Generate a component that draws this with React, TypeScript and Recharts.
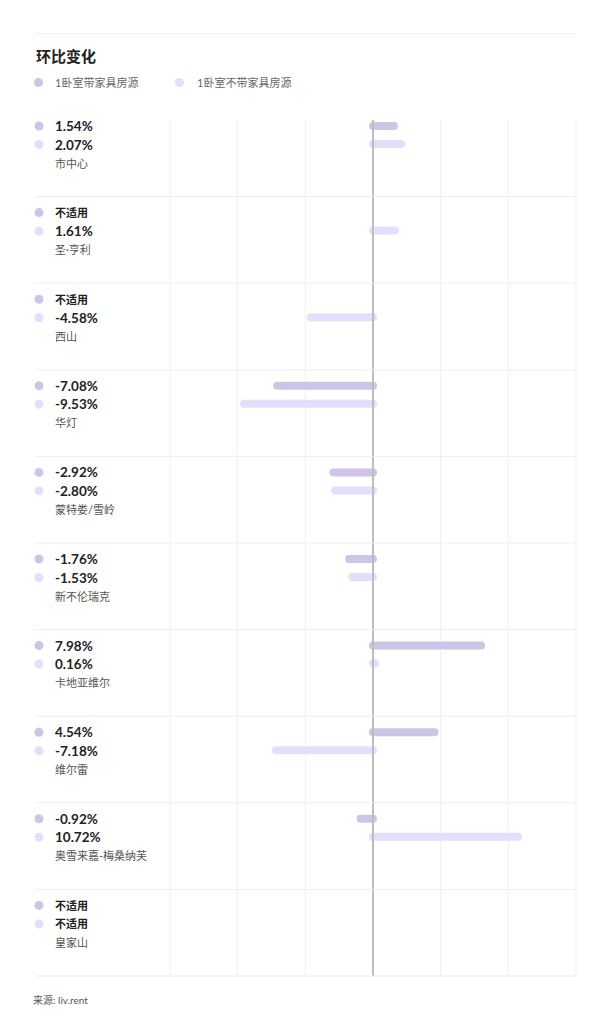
import React from 'react';
import { BarChart, Bar, XAxis, YAxis, CartesianGrid, ReferenceLine } from 'recharts';

const neighborhoods: string[] = ['市中心', '圣·亨利', '西山', '华灯', '蒙特娄/雪岭', '新不伦瑞克', '卡地亚维尔', '维尔雷', '奥雪来嘉-梅桑纳芙', '皇家山'];
const furnished: (number | null)[] = [1.54, null, null, -7.08, -2.92, -1.76, 7.98, 4.54, -0.92, null];
const unfurnished: (number | null)[] = [2.07, 1.61, -4.58, -9.53, -2.8, -1.53, 0.16, -7.18, 10.72, null];
const xTicks: number[] = [-15, -10, -5, 0, 5, 10, 15];
const seriesNames: string[] = ['1卧室带家具房源', '1卧室不带家具房源'];
const naLabel = '不适用';
const titleText = '环比变化';
const sourceText = '来源: liv.rent';

const data = neighborhoods.map((name, i) => ({ name, furnished: furnished[i], unfurnished: unfurnished[i] }));

const C1 = '#cdc4e6';
const C2 = '#e3defa';
const FONT = "Lato, 'Noto Sans CJK SC', sans-serif";

const CHART_W = 594;
const CHART_H = 1000;
const MARGIN = { top: 112, right: 26, bottom: 32, left: 27 };
const Y_PAD_TOP = -10;
const ROW_H = (CHART_H - MARGIN.top - MARGIN.bottom - Y_PAD_TOP) / neighborhoods.length;
const LEFT = MARGIN.left;
const RIGHT = CHART_W - MARGIN.right;

const fmt = (v: number | null) => (v == null ? naLabel : `${v.toFixed(2)}%`);

const RowTick = (props: any) => {
  const { y, payload } = props;
  const i = payload.index;
  const vals = [furnished[i], unfurnished[i]];
  const cols = [C1, C2];
  const offs = [-ROW_H / 2 + 16, -ROW_H / 2 + 34.5];
  return (
    <g>
      {vals.map((v, k) => (
        <g key={k}>
          <circle cx={LEFT + 4} cy={y + offs[k]} r={4.5} fill={cols[k]} />
          <text
            x={LEFT + 20}
            y={y + offs[k]}
            dominantBaseline="central"
            fontFamily={FONT}
            fontWeight={700}
            fontSize={v == null ? 11 : 13.5}
            fill="#222"
          >
            {fmt(v)}
          </text>
        </g>
      ))}
      <text x={LEFT + 20} y={y - ROW_H / 2 + 53} dominantBaseline="central" fontFamily={FONT} fontSize={11} fill="#555">
        {neighborhoods[i]}
      </text>
      <line x1={LEFT} x2={RIGHT} y1={y + ROW_H / 2} y2={y + ROW_H / 2} stroke="#eeeeee" strokeWidth={1} />
    </g>
  );
};

const makePill = (key: 'furnished' | 'unfurnished', color: string) => (props: any) => {
  const { x, y, width, height, payload } = props;
  if (!payload || payload[key] == null) return <g />;
  const left = Math.min(x, x + width) - height / 2;
  const right = Math.max(x, x + width) + height / 2;
  return <rect x={left} y={y} width={right - left} height={height} rx={height / 2} ry={height / 2} fill={color} />;
};

const Empty = () => <g />;

export default function App() {
  return (
    <div style={{ position: 'relative', width: CHART_W, height: CHART_H + 10, fontFamily: FONT }}>
      <div style={{ position: 'absolute', left: 27, top: 25, width: 541, height: 1, background: '#efefef' }} />
      <div style={{ position: 'absolute', left: 28, top: 38, fontSize: 15, fontWeight: 700, color: '#222', lineHeight: '20px' }}>
        {titleText}
      </div>
      {seriesNames.map((s, k) => (
        <div
          key={s}
          style={{ position: 'absolute', left: k === 0 ? 26 : 167, top: 66, display: 'flex', alignItems: 'center', height: 16 }}
        >
          <span style={{ width: 9, height: 9, borderRadius: 5, background: k === 0 ? C1 : C2, display: 'inline-block' }} />
          <span style={{ marginLeft: k === 0 ? 12 : 13, fontSize: 11, color: '#666' }}>{s}</span>
        </div>
      ))}
      <div style={{ position: 'absolute', top: 0, left: 0 }}>
        <BarChart width={CHART_W} height={CHART_H} data={data} layout="vertical" margin={MARGIN} barSize={8} barGap={10}>
          <CartesianGrid horizontal={false} stroke="#f0f0f0" />
          <XAxis type="number" domain={[-15, 15]} ticks={xTicks} hide />
          <YAxis
            type="category"
            dataKey="name"
            width={135}
            tick={<RowTick />}
            tickLine={false}
            axisLine={false}
            interval={0}
            padding={{ top: Y_PAD_TOP, bottom: 0 }}
          />
          <ReferenceLine x={0} stroke="#bdbdbd" strokeWidth={2} />
          <Bar dataKey="furnished" isAnimationActive={false} shape={makePill('furnished', C1)} />
          <Bar dataKey="unfurnished" isAnimationActive={false} shape={makePill('unfurnished', C2)} />
          <Bar dataKey="slotA" isAnimationActive={false} shape={<Empty />} />
          <Bar dataKey="slotB" isAnimationActive={false} shape={<Empty />} />
        </BarChart>
      </div>
      <div style={{ position: 'absolute', left: 25, top: 985, fontSize: 10, color: '#555', lineHeight: '14px' }}>{sourceText}</div>
    </div>
  );
}
